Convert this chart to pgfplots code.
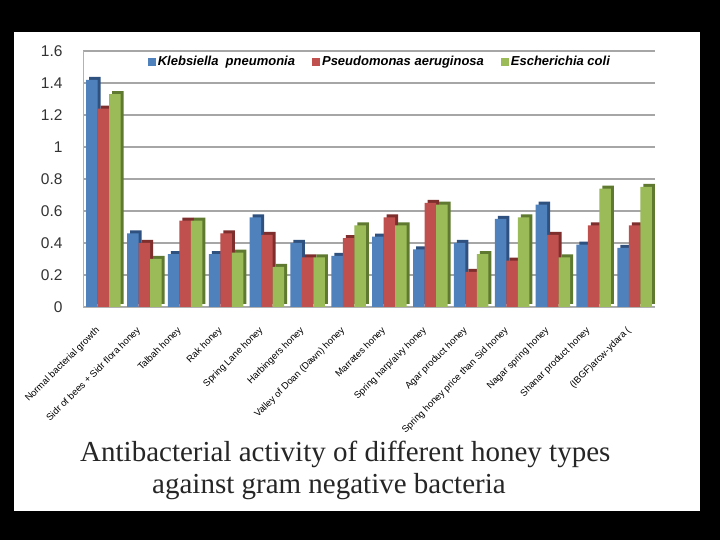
\documentclass[border=0pt]{standalone}
\usepackage{pgfplots}
\pgfplotsset{compat=1.18}
\usepackage{fontspec}
\setmainfont{Liberation Sans}
\newfontfamily\titlefont{Liberation Serif}
\definecolor{kb}{HTML}{4F81BD}
\definecolor{kbd}{HTML}{2F5180}
\definecolor{pr}{HTML}{C0504D}
\definecolor{prd}{HTML}{7E2F2D}
\definecolor{eg}{HTML}{9BBB59}
\definecolor{egd}{HTML}{5F7A30}
\begin{document}
\begin{tikzpicture}[x=1pt,y=1pt]
\fill[black] (0,0) rectangle (720,540);
\fill[white] (14,29) rectangle (700,508);
\useasboundingbox (0,0) rectangle (720,540);
\begin{axis}[
  at={(83pt,233pt)}, anchor=south west,
  scale only axis, width=572pt, height=256pt,
  xmin=-0.5, xmax=13.5, ymin=0, ymax=1.6,
  ybar, bar width=11.5pt,
  ytick={0,0.2,...,1.6},
  yticklabel style={font=\fontsize{15.5}{15.5}\selectfont, text=black!80, xshift=-17pt},
  /pgf/number format/assume math mode=true,
  xtick={0,...,13},
  xticklabels={Normal bacterial growth, Sidr of bees + Sidr flora honey, Talbah honey, Rak honey, Spring Lane honey, Harbingers honey, Valley of Doan (Dawn) honey, Marrates honey, Spring harp/alvy honey, Agar product honey, Spring honey price than Sid honey, Nagar spring honey, Shanar product honey, (IBGF)arcw-ydara (},
  xticklabel style={font=\fontsize{9.5}{9.5}\selectfont, rotate=45, anchor=east, xshift=-16pt, yshift=-12pt},
  major tick length=0pt,
  ymajorgrids, grid style={gray!70, line width=1.2pt},
  axis line style={gray!60},
  axis x line*=bottom, axis y line*=left,
  legend style={at={(0.519,0.957)}, anchor=center, draw=none, fill=none,
    legend columns=3, font=\fontsize{13}{13}\selectfont\bfseries\itshape,
    /tikz/every even column/.append style={column sep=15pt}},
  legend image code/.code={\fill[#1] (0pt,-4pt) rectangle (8pt,4pt);},
]
% side/top shading (pseudo 3D)
\addplot+[forget plot, draw=none, fill=kbd, bar shift=-11.5pt, xshift=3pt, yshift=3pt] coordinates {(0,1.42) (1,0.46) (2,0.33) (3,0.33) (4,0.56) (5,0.40) (6,0.32) (7,0.44) (8,0.36) (9,0.40) (10,0.55) (11,0.64) (12,0.39) (13,0.37)};
\addplot+[forget plot, draw=none, fill=prd, bar shift=0pt, xshift=3pt, yshift=3pt] coordinates {(0,1.24) (1,0.40) (2,0.54) (3,0.46) (4,0.45) (5,0.31) (6,0.43) (7,0.56) (8,0.65) (9,0.22) (10,0.29) (11,0.45) (12,0.51) (13,0.51)};
\addplot+[forget plot, draw=none, fill=egd, bar shift=11.5pt, xshift=3pt, yshift=3pt] coordinates {(0,1.33) (1,0.30) (2,0.54) (3,0.34) (4,0.25) (5,0.31) (6,0.51) (7,0.51) (8,0.64) (9,0.33) (10,0.56) (11,0.31) (12,0.74) (13,0.75)};
% main bars
\addplot+[draw=none, fill=kb, bar shift=-11.5pt] coordinates {(0,1.42) (1,0.46) (2,0.33) (3,0.33) (4,0.56) (5,0.40) (6,0.32) (7,0.44) (8,0.36) (9,0.40) (10,0.55) (11,0.64) (12,0.39) (13,0.37)};
\addplot+[draw=none, fill=pr, bar shift=0pt] coordinates {(0,1.24) (1,0.40) (2,0.54) (3,0.46) (4,0.45) (5,0.31) (6,0.43) (7,0.56) (8,0.65) (9,0.22) (10,0.29) (11,0.45) (12,0.51) (13,0.51)};
\addplot+[draw=none, fill=eg, bar shift=11.5pt] coordinates {(0,1.33) (1,0.30) (2,0.54) (3,0.34) (4,0.25) (5,0.31) (6,0.51) (7,0.51) (8,0.64) (9,0.33) (10,0.56) (11,0.31) (12,0.74) (13,0.75)};
\legend{Klebsiella\ \ pneumonia, Pseudomonas aeruginosa, Escherichia coli}
\end{axis}
\node[anchor=base west, inner sep=0pt, font=\titlefont\fontsize{29}{29}\selectfont, text=black!85] at (80,78) {Antibacterial activity of different honey types};
\node[anchor=base west, inner sep=0pt, font=\titlefont\fontsize{29}{29}\selectfont, text=black!85] at (152,46) {against gram negative bacteria};
\end{tikzpicture}
\end{document}
